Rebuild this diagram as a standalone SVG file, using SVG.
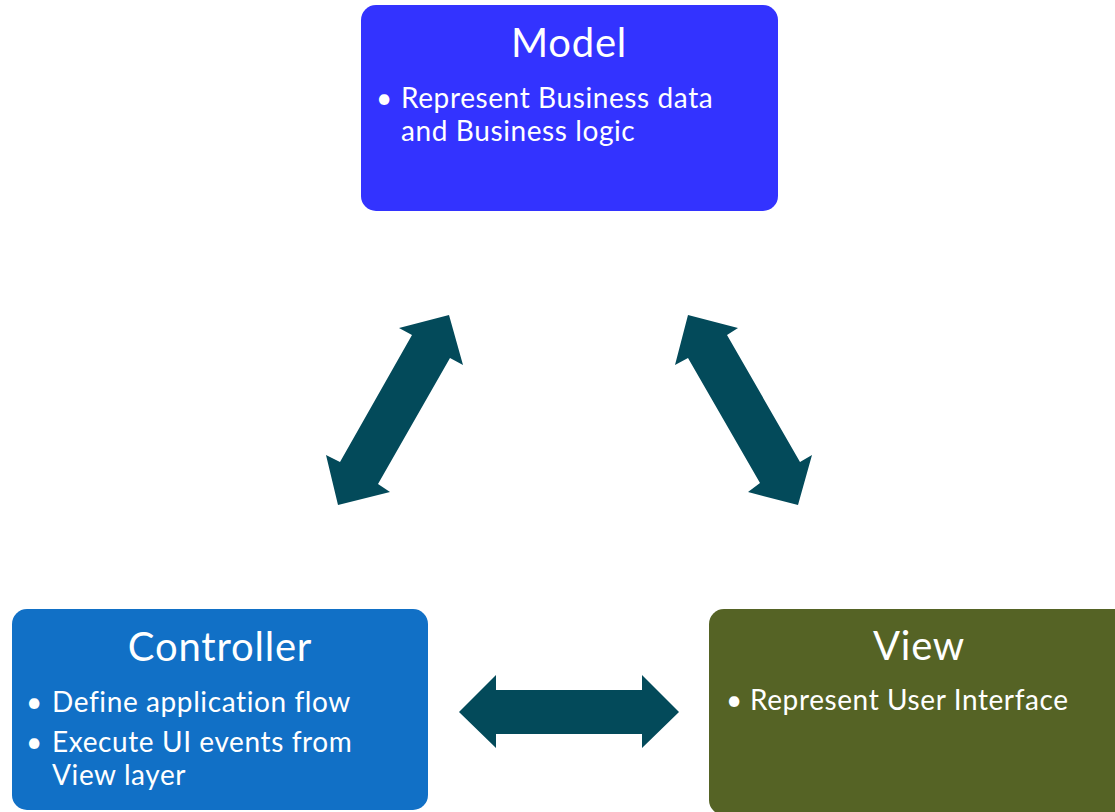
<svg xmlns="http://www.w3.org/2000/svg" width="1115" height="812" viewBox="0 0 1115 812">
<style>
.title{font-family:Lato,"Open Sans","Liberation Sans",sans-serif;font-size:40px;letter-spacing:0.8px;fill:#ffffff;text-anchor:middle}
.body{font-family:Lato,"Open Sans","Liberation Sans",sans-serif;font-size:28px;letter-spacing:0.6px;fill:#ffffff}
.arrow{fill:#034a5a}
</style>
<rect width="1115" height="812" fill="#ffffff"/>
<g id="model">
<rect x="361" y="5" width="417" height="206" rx="15" fill="#3333ff"/>
<text class="title" x="569" y="57">Model</text>
<text class="body" x="376" y="108">•</text>
<text class="body" x="401" y="108">Represent Business data</text>
<text class="body" x="401" y="141">and Business logic</text>
</g>
<g id="controller">
<rect x="12" y="609" width="416" height="201" rx="15" fill="#1170c6"/>
<text class="title" x="220" y="661">Controller</text>
<text class="body" x="26" y="712">•</text>
<text class="body" x="52" y="712">Define application flow</text>
<text class="body" x="26" y="752">•</text>
<text class="body" x="52" y="752">Execute UI events from</text>
<text class="body" x="52" y="785">View layer</text>
</g>
<g id="view">
<rect x="709" y="609" width="420" height="206" rx="15" fill="#556325"/>
<text class="title" x="919" y="660">View</text>
<text class="body" x="726" y="710">•</text>
<text class="body" x="750" y="710">Represent User Interface</text>
</g>
<g id="connectors">
<polygon class="arrow" points="449,315 463,365 450,358 378,484 390,492 338,505 326,455 340,462 412,335 399,328"/>
<polygon class="arrow" points="688,315 738,328 727,335 800,462 812,455 798,505 748,492 760,483 688,358 675,365"/>
<polygon class="arrow" points="459,712 496,675 496,690 642,690 642,675 679,712 642,748 642,734 496,734 496,748"/>
</g>
</svg>
